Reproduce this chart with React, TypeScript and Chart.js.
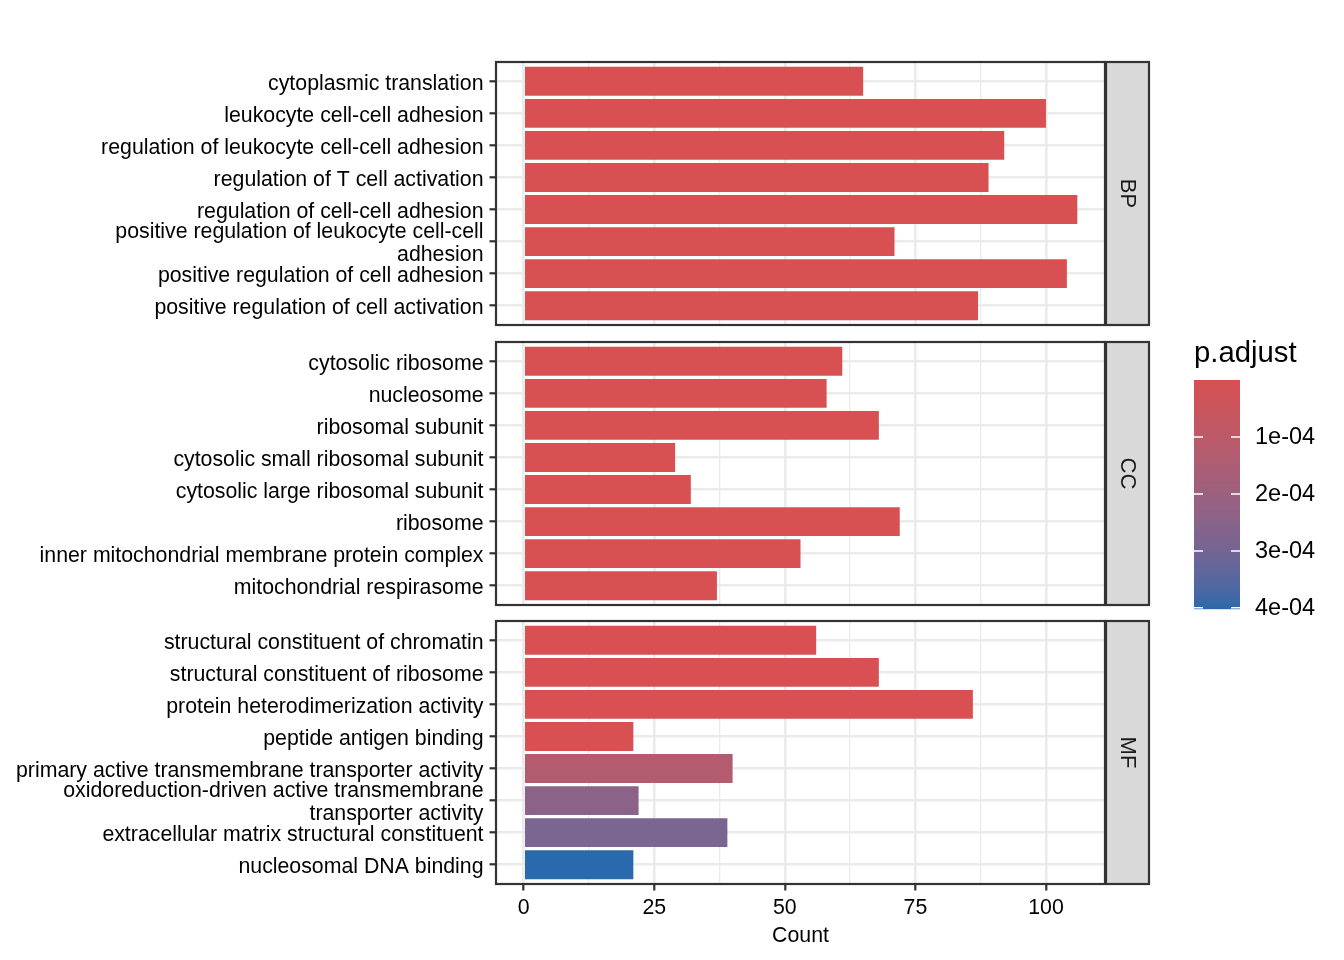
import React, { useEffect, useRef } from "react";
import { Chart, registerables } from "chart.js";

Chart.register(...registerables);

// ---------------- data ----------------
const BP_TERMS: (string | string[])[] = [
  "cytoplasmic translation",
  "leukocyte cell-cell adhesion",
  "regulation of leukocyte cell-cell adhesion",
  "regulation of T cell activation",
  "regulation of cell-cell adhesion",
  ["positive regulation of leukocyte cell-cell", "adhesion"],
  "positive regulation of cell adhesion",
  "positive regulation of cell activation",
];
const BP_COUNT = [65, 100, 92, 89, 106, 71, 104, 87];
const BP_P = [1e-30, 1e-25, 1e-22, 1e-20, 1e-24, 1e-21, 1e-20, 1e-19];

const CC_TERMS: (string | string[])[] = [
  "cytosolic ribosome",
  "nucleosome",
  "ribosomal subunit",
  "cytosolic small ribosomal subunit",
  "cytosolic large ribosomal subunit",
  "ribosome",
  "inner mitochondrial membrane protein complex",
  "mitochondrial respirasome",
];
const CC_COUNT = [61, 58, 68, 29, 32, 72, 53, 37];
const CC_P = [1e-30, 1e-28, 1e-27, 1e-20, 1e-20, 1e-25, 1e-15, 1e-14];

const MF_TERMS: (string | string[])[] = [
  "structural constituent of chromatin",
  "structural constituent of ribosome",
  "protein heterodimerization activity",
  "peptide antigen binding",
  "primary active transmembrane transporter activity",
  ["oxidoreduction-driven active transmembrane", "transporter activity"],
  "extracellular matrix structural constituent",
  "nucleosomal DNA binding",
];
const MF_COUNT = [56, 68, 86, 21, 40, 22, 39, 21];
const MF_P = [1e-26, 1e-25, 1e-12, 1e-9, 1.3e-4, 2.45e-4, 2.85e-4, 4.02e-4];

const FACETS = ["BP", "CC", "MF"];
const X_MAJOR = [0, 25, 50, 75, 100];
const X_MINOR = [12.5, 37.5, 62.5, 87.5];
const LEGEND_TICKS = [1e-4, 2e-4, 3e-4, 4e-4];
const LEGEND_LABELS = ["1e-04", "2e-04", "3e-04", "4e-04"];

// ---------------- style ----------------
const FONT = "'Liberation Sans', Arial, Helvetica, sans-serif";
const LOW = "#d85052";
const HIGH = "#2a69ab";
const W = 1344;
const H = 960;
const PANEL_LEFT = 496;
const PANEL_RIGHT = 1105;
const PANEL_TOPS = [62, 342, 621];
const PANEL_BOTTOMS = [325, 605, 884];
const X_MIN = -5.3;
const X_MAX = 111.3;

// ---------------- colour scale (Lab interpolation) ----------------
function hexToRgb(h: string) {
  return [1, 3, 5].map((i) => parseInt(h.slice(i, i + 2), 16));
}
function toLin(c: number) {
  c /= 255;
  return c <= 0.04045 ? c / 12.92 : Math.pow((c + 0.055) / 1.055, 2.4);
}
function fromLin(c: number) {
  const v = c <= 0.0031308 ? 12.92 * c : 1.055 * Math.pow(Math.max(c, 0), 1 / 2.4) - 0.055;
  return Math.round(Math.max(0, Math.min(1, v)) * 255);
}
function rgbToLab(rgb: number[]) {
  const [R, G, B] = rgb.map(toLin);
  const X = (0.4124 * R + 0.3576 * G + 0.1805 * B) / 0.95047;
  const Y = 0.2126 * R + 0.7152 * G + 0.0722 * B;
  const Z = (0.0193 * R + 0.1192 * G + 0.9505 * B) / 1.08883;
  const f = (t: number) => (t > 0.008856 ? Math.cbrt(t) : 7.787 * t + 16 / 116);
  const fx = f(X), fy = f(Y), fz = f(Z);
  return [116 * fy - 16, 500 * (fx - fy), 200 * (fy - fz)];
}
function labToRgb(lab: number[]) {
  const [L, a, b] = lab;
  const fy = (L + 16) / 116, fx = fy + a / 500, fz = fy - b / 200;
  const inv = (t: number) => (t * t * t > 0.008856 ? t * t * t : (t - 16 / 116) / 7.787);
  const X = inv(fx) * 0.95047, Y = inv(fy), Z = inv(fz) * 1.08883;
  const R = 3.2406 * X - 1.5372 * Y - 0.4986 * Z;
  const G = -0.9689 * X + 1.8758 * Y + 0.0415 * Z;
  const B = 0.0557 * X - 0.204 * Y + 1.057 * Z;
  return [fromLin(R), fromLin(G), fromLin(B)];
}
const LAB_LOW = rgbToLab(hexToRgb(LOW));
const LAB_HIGH = rgbToLab(hexToRgb(HIGH));
const ALL_P = [...BP_P, ...CC_P, ...MF_P];
const P_MIN = Math.min(...ALL_P);
const P_MAX = Math.max(...ALL_P);
function colorFor(p: number) {
  const t = Math.max(0, Math.min(1, (p - P_MIN) / (P_MAX - P_MIN)));
  const lab = LAB_LOW.map((v, i) => v + (LAB_HIGH[i] - v) * t);
  const [r, g, b] = labToRgb(lab);
  return `rgb(${r},${g},${b})`;
}

const PANELS = [
  { terms: BP_TERMS, counts: BP_COUNT, p: BP_P },
  { terms: CC_TERMS, counts: CC_COUNT, p: CC_P },
  { terms: MF_TERMS, counts: MF_COUNT, p: MF_P },
];

// ---------------- plugins ----------------
function panelPlugin(label: string) {
  return {
    id: "panelDecor" + label,
    afterDraw(chart: any) {
      const { ctx, chartArea } = chart;
      const { left, top, right, bottom } = chartArea;
      ctx.save();
      ctx.strokeStyle = "#333333";
      ctx.lineWidth = 2.2;
      ctx.strokeRect(left, top, right - left, bottom - top);
      const sx = right + 1;
      const sw = 1149 - sx;
      ctx.fillStyle = "#d9d9d9";
      ctx.fillRect(sx, top, sw, bottom - top);
      ctx.strokeRect(sx, top, sw, bottom - top);
      ctx.translate(sx + sw / 2, (top + bottom) / 2);
      ctx.rotate(Math.PI / 2);
      ctx.fillStyle = "#1a1a1a";
      ctx.font = `22px ${FONT}`;
      ctx.textAlign = "center";
      ctx.textBaseline = "middle";
      ctx.fillText(label, 0, 0);
      ctx.restore();
    },
  };
}

const legendPlugin = {
  id: "pLegend",
  afterDraw(chart: any) {
    const ctx = chart.ctx;
    const x0 = 1194, w = 46, y0 = 380, h = 229;
    ctx.save();
    for (let i = 0; i < h; i++) {
      const p = P_MIN + ((i + 0.5) / h) * (P_MAX - P_MIN);
      ctx.fillStyle = colorFor(p);
      ctx.fillRect(x0, y0 + i, w, 1.2);
    }
    ctx.strokeStyle = "#ffffff";
    ctx.lineWidth = 1.5;
    ctx.fillStyle = "#000000";
    ctx.font = `23.5px ${FONT}`;
    ctx.textAlign = "left";
    ctx.textBaseline = "middle";
    LEGEND_TICKS.forEach((v, i) => {
      const y = y0 + ((v - P_MIN) / (P_MAX - P_MIN)) * h;
      ctx.beginPath();
      ctx.moveTo(x0, y);
      ctx.lineTo(x0 + 9, y);
      ctx.moveTo(x0 + w - 9, y);
      ctx.lineTo(x0 + w, y);
      ctx.stroke();
      ctx.fillText(LEGEND_LABELS[i], 1255, y + 1);
    });
    ctx.font = `29.3px ${FONT}`;
    ctx.textBaseline = "alphabetic";
    ctx.fillText("p.adjust", 1194, 362);
    ctx.restore();
  },
};

function makeConfig(idx: number) {
  const panel = PANELS[idx];
  const isBottom = idx === PANELS.length - 1;
  const n = panel.terms.length;
  const xAxisH = isBottom ? 65 : 0;
  const padBottom = H - PANEL_BOTTOMS[idx] - xAxisH;
  const xTicks = [...X_MAJOR, ...X_MINOR].sort((a, b) => a - b);
  const isMajor = (v: number) => X_MAJOR.includes(v);
  return {
    type: "bar",
    data: {
      datasets: [
        {
          data: panel.counts.map((c, i) => ({ x: c, y: i + 1 })),
          backgroundColor: panel.p.map(colorFor),
          borderWidth: 0,
          barPercentage: 0.9,
          categoryPercentage: 1,
        },
      ],
    },
    options: {
      indexAxis: "y",
      responsive: false,
      animation: false,
      devicePixelRatio: 1,
      layout: {
        padding: { top: PANEL_TOPS[idx], bottom: padBottom, left: 0, right: W - PANEL_RIGHT },
      },
      plugins: { legend: { display: false }, tooltip: { enabled: false } },
      scales: {
        x: {
          type: "linear",
          min: X_MIN,
          max: X_MAX,
          afterBuildTicks: (s: any) => {
            s.ticks = xTicks.map((v) => ({ value: v }));
          },
          afterFit: (s: any) => {
            s.height = xAxisH;
          },
          border: { display: false },
          grid: {
            color: "#ebebeb",
            lineWidth: (c: any) => (c.tick && isMajor(c.tick.value) ? 2.6 : 1.3),
            drawTicks: isBottom,
            tickLength: 6.5,
            tickWidth: 2.2,
            tickColor: (c: any) => (c.tick && isMajor(c.tick.value) ? "#333333" : "rgba(0,0,0,0)"),
          },
          ticks: {
            display: isBottom,
            autoSkip: false,
            maxRotation: 0,
            padding: 5,
            color: "#000000",
            font: { family: FONT, size: 21.3 },
            callback: (v: number) => (isMajor(v) ? String(v) : ""),
          },
          title: {
            display: isBottom,
            text: "Count",
            color: "#000000",
            font: { family: FONT, size: 21.3 },
            padding: 0,
          },
        },
        y: {
          type: "linear",
          reverse: true,
          offset: false,
          min: 0.4,
          max: n + 0.6,
          afterBuildTicks: (s: any) => {
            s.ticks = panel.terms.map((_, i) => ({ value: i + 1 }));
          },
          afterFit: (s: any) => {
            s.width = PANEL_LEFT;
          },
          border: { display: false },
          grid: {
            offset: false,
            color: "#ebebeb",
            lineWidth: 2.6,
            tickLength: 6.5,
            tickWidth: 2.2,
            tickColor: "#333333",
          },
          ticks: {
            autoSkip: false,
            padding: 6,
            labelOffset: 2.5,
            color: "#000000",
            font: { family: FONT, size: 21.3, lineHeight: 1.08 },
            callback: (v: number) => panel.terms[Math.round(v) - 1] ?? "",
          },
        },
      },
    },
    plugins: isBottom ? [panelPlugin(FACETS[idx]), legendPlugin] : [panelPlugin(FACETS[idx])],
  };
}

export default function App() {
  const r0 = useRef<HTMLCanvasElement>(null);
  const r1 = useRef<HTMLCanvasElement>(null);
  const r2 = useRef<HTMLCanvasElement>(null);
  const refs = [r0, r1, r2];

  useEffect(() => {
    const charts = refs.map((r, i) => new Chart(r.current as HTMLCanvasElement, makeConfig(i) as any));
    return () => charts.forEach((c) => c.destroy());
  }, []);

  return (
    <div style={{ position: "absolute", left: 0, top: 0, width: W, height: H, background: "#ffffff" }}>
      {refs.map((r, i) => (
        <canvas
          key={i}
          ref={r}
          width={W}
          height={H}
          style={{ position: "absolute", left: 0, top: 0, width: W, height: H }}
        />
      ))}
    </div>
  );
}
